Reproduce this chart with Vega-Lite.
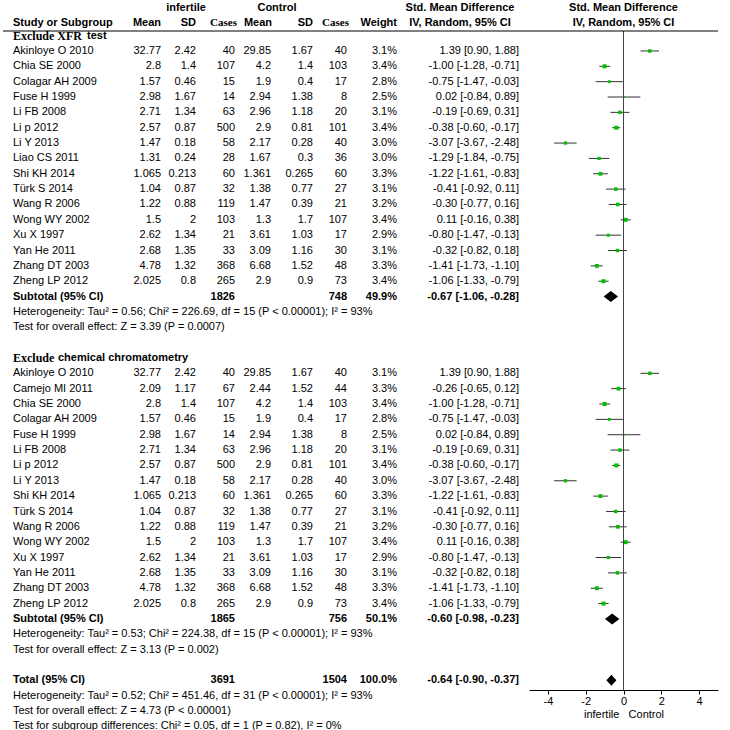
{
"$schema": "https://vega.github.io/schema/vega-lite/v6.json",
"padding": {"left": 2, "top": 0, "right": 0, "bottom": 0},
"autosize": {"type": "pad"},
"bounds": "flush",
"spacing": 0,
"config": {
  "view": {"stroke": null},
  "text": {"font": "Liberation Sans", "fontSize": 11, "color": "black"},
  "axis": {"labelFont": "Liberation Sans", "labelFontSize": 11, "labelColor": "black", "titleFont": "Liberation Sans", "titleFontSize": 11, "titleFontWeight": "normal", "titleColor": "black", "domainColor": "black", "tickColor": "black", "tickSize": 4, "labelPadding": 1, "titlePadding": 2, "grid": false}
},
"data": {"values": [
{"k":"group","pre":"Exclude XFR","post":"test"},
{"k":"study","l":"Akinloye O 2010","m1":32.77,"s1":2.42,"n1":40,"m2":29.85,"s2":1.67,"n2":40,"w":0.031,"e":1.39,"lo":0.90,"hi":1.88},
{"k":"study","l":"Chia SE 2000","m1":2.8,"s1":1.4,"n1":107,"m2":4.2,"s2":1.4,"n2":103,"w":0.034,"e":-1.00,"lo":-1.28,"hi":-0.71},
{"k":"study","l":"Colagar AH 2009","m1":1.57,"s1":0.46,"n1":15,"m2":1.9,"s2":0.4,"n2":17,"w":0.028,"e":-0.75,"lo":-1.47,"hi":-0.03},
{"k":"study","l":"Fuse H 1999","m1":2.98,"s1":1.67,"n1":14,"m2":2.94,"s2":1.38,"n2":8,"w":0.025,"e":0.02,"lo":-0.84,"hi":0.89},
{"k":"study","l":"Li FB 2008","m1":2.71,"s1":1.34,"n1":63,"m2":2.96,"s2":1.18,"n2":20,"w":0.031,"e":-0.19,"lo":-0.69,"hi":0.31},
{"k":"study","l":"Li p 2012","m1":2.57,"s1":0.87,"n1":500,"m2":2.9,"s2":0.81,"n2":101,"w":0.034,"e":-0.38,"lo":-0.60,"hi":-0.17},
{"k":"study","l":"Li Y 2013","m1":1.47,"s1":0.18,"n1":58,"m2":2.17,"s2":0.28,"n2":40,"w":0.030,"e":-3.07,"lo":-3.67,"hi":-2.48},
{"k":"study","l":"Liao CS 2011","m1":1.31,"s1":0.24,"n1":28,"m2":1.67,"s2":0.3,"n2":36,"w":0.030,"e":-1.29,"lo":-1.84,"hi":-0.75},
{"k":"study","l":"Shi KH 2014","m1":1.065,"s1":0.213,"n1":60,"m2":1.361,"s2":0.265,"n2":60,"w":0.033,"e":-1.22,"lo":-1.61,"hi":-0.83},
{"k":"study","l":"Türk S 2014","m1":1.04,"s1":0.87,"n1":32,"m2":1.38,"s2":0.77,"n2":27,"w":0.031,"e":-0.41,"lo":-0.92,"hi":0.11},
{"k":"study","l":"Wang R 2006","m1":1.22,"s1":0.88,"n1":119,"m2":1.47,"s2":0.39,"n2":21,"w":0.032,"e":-0.30,"lo":-0.77,"hi":0.16},
{"k":"study","l":"Wong WY  2002","m1":1.5,"s1":2,"n1":103,"m2":1.3,"s2":1.7,"n2":107,"w":0.034,"e":0.11,"lo":-0.16,"hi":0.38},
{"k":"study","l":"Xu X 1997","m1":2.62,"s1":1.34,"n1":21,"m2":3.61,"s2":1.03,"n2":17,"w":0.029,"e":-0.80,"lo":-1.47,"hi":-0.13},
{"k":"study","l":"Yan He 2011","m1":2.68,"s1":1.35,"n1":33,"m2":3.09,"s2":1.16,"n2":30,"w":0.031,"e":-0.32,"lo":-0.82,"hi":0.18},
{"k":"study","l":"Zhang DT 2003","m1":4.78,"s1":1.32,"n1":368,"m2":6.68,"s2":1.52,"n2":48,"w":0.033,"e":-1.41,"lo":-1.73,"hi":-1.10},
{"k":"study","l":"Zheng LP 2012","m1":2.025,"s1":0.8,"n1":265,"m2":2.9,"s2":0.9,"n2":73,"w":0.034,"e":-1.06,"lo":-1.33,"hi":-0.79},
{"k":"subtotal","l":"Subtotal (95% CI)","n1":1826,"n2":748,"w":0.499,"e":-0.67,"lo":-1.06,"hi":-0.28},
{"k":"note","l":"Heterogeneity: Tau² = 0.56; Chi² = 226.69, df = 15 (P < 0.00001); I² = 93%"},
{"k":"note","l":"Test for overall effect: Z = 3.39 (P = 0.0007)"},
{"k":"blank"},
{"k":"group","pre":"Exclude","post":"chemical chromatometry"},
{"k":"study","l":"Akinloye O 2010","m1":32.77,"s1":2.42,"n1":40,"m2":29.85,"s2":1.67,"n2":40,"w":0.031,"e":1.39,"lo":0.90,"hi":1.88},
{"k":"study","l":"Camejo MI 2011","m1":2.09,"s1":1.17,"n1":67,"m2":2.44,"s2":1.52,"n2":44,"w":0.033,"e":-0.26,"lo":-0.65,"hi":0.12},
{"k":"study","l":"Chia SE 2000","m1":2.8,"s1":1.4,"n1":107,"m2":4.2,"s2":1.4,"n2":103,"w":0.034,"e":-1.00,"lo":-1.28,"hi":-0.71},
{"k":"study","l":"Colagar AH 2009","m1":1.57,"s1":0.46,"n1":15,"m2":1.9,"s2":0.4,"n2":17,"w":0.028,"e":-0.75,"lo":-1.47,"hi":-0.03},
{"k":"study","l":"Fuse H 1999","m1":2.98,"s1":1.67,"n1":14,"m2":2.94,"s2":1.38,"n2":8,"w":0.025,"e":0.02,"lo":-0.84,"hi":0.89},
{"k":"study","l":"Li FB 2008","m1":2.71,"s1":1.34,"n1":63,"m2":2.96,"s2":1.18,"n2":20,"w":0.031,"e":-0.19,"lo":-0.69,"hi":0.31},
{"k":"study","l":"Li p 2012","m1":2.57,"s1":0.87,"n1":500,"m2":2.9,"s2":0.81,"n2":101,"w":0.034,"e":-0.38,"lo":-0.60,"hi":-0.17},
{"k":"study","l":"Li Y 2013","m1":1.47,"s1":0.18,"n1":58,"m2":2.17,"s2":0.28,"n2":40,"w":0.030,"e":-3.07,"lo":-3.67,"hi":-2.48},
{"k":"study","l":"Shi KH 2014","m1":1.065,"s1":0.213,"n1":60,"m2":1.361,"s2":0.265,"n2":60,"w":0.033,"e":-1.22,"lo":-1.61,"hi":-0.83},
{"k":"study","l":"Türk S 2014","m1":1.04,"s1":0.87,"n1":32,"m2":1.38,"s2":0.77,"n2":27,"w":0.031,"e":-0.41,"lo":-0.92,"hi":0.11},
{"k":"study","l":"Wang R 2006","m1":1.22,"s1":0.88,"n1":119,"m2":1.47,"s2":0.39,"n2":21,"w":0.032,"e":-0.30,"lo":-0.77,"hi":0.16},
{"k":"study","l":"Wong WY  2002","m1":1.5,"s1":2,"n1":103,"m2":1.3,"s2":1.7,"n2":107,"w":0.034,"e":0.11,"lo":-0.16,"hi":0.38},
{"k":"study","l":"Xu X 1997","m1":2.62,"s1":1.34,"n1":21,"m2":3.61,"s2":1.03,"n2":17,"w":0.029,"e":-0.80,"lo":-1.47,"hi":-0.13},
{"k":"study","l":"Yan He 2011","m1":2.68,"s1":1.35,"n1":33,"m2":3.09,"s2":1.16,"n2":30,"w":0.031,"e":-0.32,"lo":-0.82,"hi":0.18},
{"k":"study","l":"Zhang DT 2003","m1":4.78,"s1":1.32,"n1":368,"m2":6.68,"s2":1.52,"n2":48,"w":0.033,"e":-1.41,"lo":-1.73,"hi":-1.10},
{"k":"study","l":"Zheng LP 2012","m1":2.025,"s1":0.8,"n1":265,"m2":2.9,"s2":0.9,"n2":73,"w":0.034,"e":-1.06,"lo":-1.33,"hi":-0.79},
{"k":"subtotal","l":"Subtotal (95% CI)","n1":1865,"n2":756,"w":0.501,"e":-0.60,"lo":-0.98,"hi":-0.23},
{"k":"note","l":"Heterogeneity: Tau² = 0.53; Chi² = 224.38, df = 15 (P < 0.00001); I² = 93%"},
{"k":"note","l":"Test for overall effect: Z = 3.13 (P = 0.002)"},
{"k":"blank"},
{"k":"total","l":"Total (95% CI)","n1":3691,"n2":1504,"w":1,"e":-0.64,"lo":-0.90,"hi":-0.37},
{"k":"note","l":"Heterogeneity: Tau² = 0.52; Chi² = 451.46, df = 31 (P < 0.00001); I² = 93%"},
{"k":"note","l":"Test for overall effect: Z = 4.73 (P < 0.00001)"},
{"k":"note","l":"Test for subgroup differences: Chi² = 0.05, df = 1 (P = 0.82), I² = 0%"}
]},
"transform": [
  {"window": [{"op": "row_number", "as": "rn"}]},
  {"calculate": "replace(format(datum.e,'.2f')+' ['+format(datum.lo,'.2f')+', '+format(datum.hi,'.2f')+']', regexp('\u2212','g'), '-')", "as": "ci"}
],
"hconcat": [
  {"width": 158, "height": 730, "layer": [
    {"transform": [{"filter": "datum.k=='study'||datum.k=='note'"}], "mark": {"type": "text", "align": "left", "dx": 10}, "encoding": {"x": {"value": 0}, "y": {"field": "rn", "type": "quantitative", "scale": {"domain": [-1.32, 46.23], "reverse": true, "nice": false, "zero": false}, "axis": null}, "text": {"field": "l", "type": "nominal"}}},
    {"transform": [{"filter": "datum.k=='subtotal'||datum.k=='total'"}], "mark": {"type": "text", "align": "left", "fontWeight": "bold", "dx": 10}, "encoding": {"x": {"value": 0}, "y": {"field": "rn", "type": "quantitative", "scale": {"domain": [-1.32, 46.23], "reverse": true, "nice": false, "zero": false}, "axis": null}, "text": {"field": "l", "type": "nominal"}}},
    {"transform": [{"filter": "datum.k=='group'"}], "mark": {"type": "text", "align": "left", "fontWeight": "bold", "font": "Liberation Serif", "fontSize": 12, "dx": 10}, "encoding": {"x": {"value": 0}, "y": {"field": "rn", "type": "quantitative", "scale": {"domain": [-1.32, 46.23], "reverse": true, "nice": false, "zero": false}, "axis": null}, "text": {"field": "pre", "type": "nominal"}}},
    {"transform": [{"filter": "datum.post=='test'"}], "mark": {"type": "text", "align": "left", "fontWeight": "bold", "dx": 84}, "encoding": {"x": {"value": 0}, "y": {"field": "rn", "type": "quantitative", "scale": {"domain": [-1.32, 46.23], "reverse": true, "nice": false, "zero": false}, "axis": null}, "text": {"field": "post", "type": "nominal"}}},
    {"transform": [{"filter": "datum.post=='chemical chromatometry'"}], "mark": {"type": "text", "align": "left", "fontWeight": "bold", "dx": 55}, "encoding": {"x": {"value": 0}, "y": {"field": "rn", "type": "quantitative", "scale": {"domain": [-1.32, 46.23], "reverse": true, "nice": false, "zero": false}, "axis": null}, "text": {"field": "post", "type": "nominal"}}},
    {"transform": [{"filter": "datum.k=='study'"}], "mark": {"type": "text", "align": "right"}, "encoding": {"x": {"value": "width"}, "y": {"field": "rn", "type": "quantitative", "scale": {"domain": [-1.32, 46.23], "reverse": true, "nice": false, "zero": false}, "axis": null}, "text": {"field": "m1", "type": "nominal"}}},
    {"data": {"values": [{}]}, "mark": {"type": "text", "align": "left", "fontWeight": "bold", "text": "Study or Subgroup", "dx": 10}, "encoding": {"x": {"value": 0}, "y": {"datum": 0.18, "type": "quantitative", "scale": {"domain": [-1.32, 46.23], "reverse": true, "nice": false, "zero": false}, "axis": null}}},
    {"data": {"values": [{}]}, "mark": {"type": "text", "align": "right", "fontWeight": "bold", "text": "Mean"}, "encoding": {"x": {"value": "width"}, "y": {"datum": 0.18, "type": "quantitative", "scale": {"domain": [-1.32, 46.23], "reverse": true, "nice": false, "zero": false}, "axis": null}}},
    {"data": {"values": [{}]}, "mark": {"type": "rule", "color": "black"}, "encoding": {"y": {"datum": 0.70, "type": "quantitative", "scale": {"domain": [-1.32, 46.23], "reverse": true, "nice": false, "zero": false}, "axis": null}}}
  ]},
  {"width": 35, "height": 730, "layer": [
    {"transform": [{"filter": "datum.k=='study'"}], "mark": {"type": "text", "align": "right"}, "encoding": {"x": {"value": "width"}, "y": {"field": "rn", "type": "quantitative", "scale": {"domain": [-1.32, 46.23], "reverse": true, "nice": false, "zero": false}, "axis": null}, "text": {"field": "s1", "type": "nominal"}}},
    {"data": {"values": [{}]}, "mark": {"type": "text", "align": "right", "fontWeight": "bold", "text": "SD"}, "encoding": {"x": {"value": "width"}, "y": {"datum": 0.18, "type": "quantitative", "scale": {"domain": [-1.32, 46.23], "reverse": true, "nice": false, "zero": false}, "axis": null}}},
    {"data": {"values": [{}]}, "mark": {"type": "text", "align": "center", "fontWeight": "bold", "text": "infertile", "dx": -10}, "encoding": {"x": {"value": "width"}, "y": {"datum": -0.8, "type": "quantitative", "scale": {"domain": [-1.32, 46.23], "reverse": true, "nice": false, "zero": false}, "axis": null}}},
    {"data": {"values": [{}]}, "mark": {"type": "rule", "color": "black"}, "encoding": {"y": {"datum": 0.70, "type": "quantitative", "scale": {"domain": [-1.32, 46.23], "reverse": true, "nice": false, "zero": false}, "axis": null}}}
  ]},
  {"width": 39, "height": 730, "layer": [
    {"transform": [{"filter": "datum.k=='study'"}], "mark": {"type": "text", "align": "right"}, "encoding": {"x": {"value": "width"}, "y": {"field": "rn", "type": "quantitative", "scale": {"domain": [-1.32, 46.23], "reverse": true, "nice": false, "zero": false}, "axis": null}, "text": {"field": "n1", "type": "nominal"}}},
    {"transform": [{"filter": "datum.k=='subtotal'||datum.k=='total'"}], "mark": {"type": "text", "align": "right", "fontWeight": "bold"}, "encoding": {"x": {"value": "width"}, "y": {"field": "rn", "type": "quantitative", "scale": {"domain": [-1.32, 46.23], "reverse": true, "nice": false, "zero": false}, "axis": null}, "text": {"field": "n1", "type": "nominal"}}},
    {"data": {"values": [{}]}, "mark": {"type": "text", "align": "right", "fontWeight": "bold", "font": "Liberation Serif", "text": "Cases", "dx": 2}, "encoding": {"x": {"value": "width"}, "y": {"datum": 0.18, "type": "quantitative", "scale": {"domain": [-1.32, 46.23], "reverse": true, "nice": false, "zero": false}, "axis": null}}},
    {"data": {"values": [{}]}, "mark": {"type": "rule", "color": "black"}, "encoding": {"y": {"datum": 0.70, "type": "quantitative", "scale": {"domain": [-1.32, 46.23], "reverse": true, "nice": false, "zero": false}, "axis": null}}}
  ]},
  {"width": 36, "height": 730, "layer": [
    {"transform": [{"filter": "datum.k=='study'"}], "mark": {"type": "text", "align": "right"}, "encoding": {"x": {"value": "width"}, "y": {"field": "rn", "type": "quantitative", "scale": {"domain": [-1.32, 46.23], "reverse": true, "nice": false, "zero": false}, "axis": null}, "text": {"field": "m2", "type": "nominal"}}},
    {"data": {"values": [{}]}, "mark": {"type": "text", "align": "right", "fontWeight": "bold", "text": "Mean", "dx": 1}, "encoding": {"x": {"value": "width"}, "y": {"datum": 0.18, "type": "quantitative", "scale": {"domain": [-1.32, 46.23], "reverse": true, "nice": false, "zero": false}, "axis": null}}},
    {"data": {"values": [{}]}, "mark": {"type": "text", "align": "center", "fontWeight": "bold", "text": "Control", "dx": 6}, "encoding": {"x": {"value": "width"}, "y": {"datum": -0.8, "type": "quantitative", "scale": {"domain": [-1.32, 46.23], "reverse": true, "nice": false, "zero": false}, "axis": null}}},
    {"data": {"values": [{}]}, "mark": {"type": "rule", "color": "black"}, "encoding": {"y": {"datum": 0.70, "type": "quantitative", "scale": {"domain": [-1.32, 46.23], "reverse": true, "nice": false, "zero": false}, "axis": null}}}
  ]},
  {"width": 42, "height": 730, "layer": [
    {"transform": [{"filter": "datum.k=='study'"}], "mark": {"type": "text", "align": "right"}, "encoding": {"x": {"value": "width"}, "y": {"field": "rn", "type": "quantitative", "scale": {"domain": [-1.32, 46.23], "reverse": true, "nice": false, "zero": false}, "axis": null}, "text": {"field": "s2", "type": "nominal"}}},
    {"data": {"values": [{}]}, "mark": {"type": "text", "align": "right", "fontWeight": "bold", "text": "SD"}, "encoding": {"x": {"value": "width"}, "y": {"datum": 0.18, "type": "quantitative", "scale": {"domain": [-1.32, 46.23], "reverse": true, "nice": false, "zero": false}, "axis": null}}},
    {"data": {"values": [{}]}, "mark": {"type": "rule", "color": "black"}, "encoding": {"y": {"datum": 0.70, "type": "quantitative", "scale": {"domain": [-1.32, 46.23], "reverse": true, "nice": false, "zero": false}, "axis": null}}}
  ]},
  {"width": 34, "height": 730, "layer": [
    {"transform": [{"filter": "datum.k=='study'"}], "mark": {"type": "text", "align": "right"}, "encoding": {"x": {"value": "width"}, "y": {"field": "rn", "type": "quantitative", "scale": {"domain": [-1.32, 46.23], "reverse": true, "nice": false, "zero": false}, "axis": null}, "text": {"field": "n2", "type": "nominal"}}},
    {"transform": [{"filter": "datum.k=='subtotal'||datum.k=='total'"}], "mark": {"type": "text", "align": "right", "fontWeight": "bold"}, "encoding": {"x": {"value": "width"}, "y": {"field": "rn", "type": "quantitative", "scale": {"domain": [-1.32, 46.23], "reverse": true, "nice": false, "zero": false}, "axis": null}, "text": {"field": "n2", "type": "nominal"}}},
    {"data": {"values": [{}]}, "mark": {"type": "text", "align": "right", "fontWeight": "bold", "font": "Liberation Serif", "text": "Cases", "dx": 2}, "encoding": {"x": {"value": "width"}, "y": {"datum": 0.18, "type": "quantitative", "scale": {"domain": [-1.32, 46.23], "reverse": true, "nice": false, "zero": false}, "axis": null}}},
    {"data": {"values": [{}]}, "mark": {"type": "rule", "color": "black"}, "encoding": {"y": {"datum": 0.70, "type": "quantitative", "scale": {"domain": [-1.32, 46.23], "reverse": true, "nice": false, "zero": false}, "axis": null}}}
  ]},
  {"width": 50, "height": 730, "layer": [
    {"transform": [{"filter": "datum.k=='study'"}], "mark": {"type": "text", "align": "right"}, "encoding": {"x": {"value": "width"}, "y": {"field": "rn", "type": "quantitative", "scale": {"domain": [-1.32, 46.23], "reverse": true, "nice": false, "zero": false}, "axis": null}, "text": {"field": "w", "type": "quantitative", "format": ".1%"}}},
    {"transform": [{"filter": "datum.k=='subtotal'||datum.k=='total'"}], "mark": {"type": "text", "align": "right", "fontWeight": "bold"}, "encoding": {"x": {"value": "width"}, "y": {"field": "rn", "type": "quantitative", "scale": {"domain": [-1.32, 46.23], "reverse": true, "nice": false, "zero": false}, "axis": null}, "text": {"field": "w", "type": "quantitative", "format": ".1%"}}},
    {"data": {"values": [{}]}, "mark": {"type": "text", "align": "right", "fontWeight": "bold", "text": "Weight"}, "encoding": {"x": {"value": "width"}, "y": {"datum": 0.18, "type": "quantitative", "scale": {"domain": [-1.32, 46.23], "reverse": true, "nice": false, "zero": false}, "axis": null}}},
    {"data": {"values": [{}]}, "mark": {"type": "rule", "color": "black"}, "encoding": {"y": {"datum": 0.70, "type": "quantitative", "scale": {"domain": [-1.32, 46.23], "reverse": true, "nice": false, "zero": false}, "axis": null}}}
  ]},
  {"width": 132, "height": 730, "layer": [
    {"transform": [{"filter": "datum.k=='study'"}], "mark": {"type": "text", "align": "right", "dx": -10}, "encoding": {"x": {"value": "width"}, "y": {"field": "rn", "type": "quantitative", "scale": {"domain": [-1.32, 46.23], "reverse": true, "nice": false, "zero": false}, "axis": null}, "text": {"field": "ci", "type": "nominal"}}},
    {"transform": [{"filter": "datum.k=='subtotal'||datum.k=='total'"}], "mark": {"type": "text", "align": "right", "fontWeight": "bold", "dx": -10}, "encoding": {"x": {"value": "width"}, "y": {"field": "rn", "type": "quantitative", "scale": {"domain": [-1.32, 46.23], "reverse": true, "nice": false, "zero": false}, "axis": null}, "text": {"field": "ci", "type": "nominal"}}},
    {"data": {"values": [{}]}, "mark": {"type": "text", "align": "center", "fontWeight": "bold", "text": "Std. Mean Difference", "dx": -69}, "encoding": {"x": {"value": "width"}, "y": {"datum": -0.8, "type": "quantitative", "scale": {"domain": [-1.32, 46.23], "reverse": true, "nice": false, "zero": false}, "axis": null}}},
    {"data": {"values": [{}]}, "mark": {"type": "text", "align": "center", "fontWeight": "bold", "text": "IV, Random, 95% CI", "dx": -69}, "encoding": {"x": {"value": "width"}, "y": {"datum": 0.18, "type": "quantitative", "scale": {"domain": [-1.32, 46.23], "reverse": true, "nice": false, "zero": false}, "axis": null}}},
    {"data": {"values": [{}]}, "mark": {"type": "rule", "color": "black"}, "encoding": {"y": {"datum": 0.70, "type": "quantitative", "scale": {"domain": [-1.32, 46.23], "reverse": true, "nice": false, "zero": false}, "axis": null}}}
  ]},
  {"width": 189, "height": 690, "layer": [
    {"transform": [{"filter": "datum.k=='study'"}], "mark": {"type": "rule", "color": "#333333", "strokeWidth": 1}, "encoding": {
      "x": {"field": "lo", "type": "quantitative", "scale": {"domain": [-5, 5], "nice": false, "zero": false}, "axis": {"values": [-4, -2, 0, 2, 4], "title": "infertile\u00a0\u00a0\u00a0Control", "labelExpr": "'' + datum.value"}},
      "x2": {"field": "hi"},
      "y": {"field": "rn", "type": "quantitative", "scale": {"domain": [-1.32, 43.63], "reverse": true, "nice": false, "zero": false}, "axis": null}}},
    {"transform": [{"filter": "datum.k=='study'"}], "mark": {"type": "point", "shape": "square", "filled": true, "color": "#00c000", "opacity": 1}, "encoding": {
      "x": {"field": "e", "type": "quantitative", "scale": {"domain": [-5, 5], "nice": false, "zero": false}, "axis": {"values": [-4, -2, 0, 2, 4], "title": "infertile\u00a0\u00a0\u00a0Control", "labelExpr": "'' + datum.value"}},
      "y": {"field": "rn", "type": "quantitative", "scale": {"domain": [-1.32, 43.63], "reverse": true, "nice": false, "zero": false}, "axis": null},
      "size": {"field": "w", "type": "quantitative", "scale": {"domain": [0.025, 0.034], "range": [4, 16]}, "legend": null}}},
    {"transform": [{"filter": "datum.k=='subtotal'"}], "mark": {"type": "point", "shape": "M-1,0L0,-0.76L1,0L0,0.76Z", "size": 208, "filled": true, "color": "black", "opacity": 1}, "encoding": {
      "x": {"field": "e", "type": "quantitative", "scale": {"domain": [-5, 5], "nice": false, "zero": false}, "axis": {"values": [-4, -2, 0, 2, 4], "title": "infertile\u00a0\u00a0\u00a0Control", "labelExpr": "'' + datum.value"}},
      "y": {"field": "rn", "type": "quantitative", "scale": {"domain": [-1.32, 43.63], "reverse": true, "nice": false, "zero": false}, "axis": null}}},
    {"transform": [{"filter": "datum.k=='total'"}], "mark": {"type": "point", "shape": "M-1,0L0,-1.1L1,0L0,1.1Z", "size": 100, "filled": true, "color": "black", "opacity": 1}, "encoding": {
      "x": {"field": "e", "type": "quantitative", "scale": {"domain": [-5, 5], "nice": false, "zero": false}, "axis": {"values": [-4, -2, 0, 2, 4], "title": "infertile\u00a0\u00a0\u00a0Control", "labelExpr": "'' + datum.value"}},
      "y": {"field": "rn", "type": "quantitative", "scale": {"domain": [-1.32, 43.63], "reverse": true, "nice": false, "zero": false}, "axis": null}}},
    {"data": {"values": [{}]}, "mark": {"type": "rule", "color": "#444444"}, "encoding": {
      "x": {"datum": 0, "type": "quantitative", "scale": {"domain": [-5, 5], "nice": false, "zero": false}, "axis": {"values": [-4, -2, 0, 2, 4], "title": "infertile\u00a0\u00a0\u00a0Control", "labelExpr": "'' + datum.value"}},
      "y": {"datum": 0.70, "type": "quantitative", "scale": {"domain": [-1.32, 43.63], "reverse": true, "nice": false, "zero": false}, "axis": null},
      "y2": {"value": "height"}}},
    {"data": {"values": [{}]}, "mark": {"type": "text", "align": "center", "fontWeight": "bold", "text": "Std. Mean Difference"}, "encoding": {
      "x": {"datum": 0, "type": "quantitative", "scale": {"domain": [-5, 5], "nice": false, "zero": false}, "axis": {"values": [-4, -2, 0, 2, 4], "title": "infertile\u00a0\u00a0\u00a0Control", "labelExpr": "'' + datum.value"}},
      "y": {"datum": -0.8, "type": "quantitative", "scale": {"domain": [-1.32, 43.63], "reverse": true, "nice": false, "zero": false}, "axis": null}}},
    {"data": {"values": [{}]}, "mark": {"type": "text", "align": "center", "fontWeight": "bold", "text": "IV, Random, 95% CI"}, "encoding": {
      "x": {"datum": 0, "type": "quantitative", "scale": {"domain": [-5, 5], "nice": false, "zero": false}, "axis": {"values": [-4, -2, 0, 2, 4], "title": "infertile\u00a0\u00a0\u00a0Control", "labelExpr": "'' + datum.value"}},
      "y": {"datum": 0.18, "type": "quantitative", "scale": {"domain": [-1.32, 43.63], "reverse": true, "nice": false, "zero": false}, "axis": null}}},
    {"data": {"values": [{}]}, "mark": {"type": "rule", "color": "black"}, "encoding": {"y": {"datum": 0.70, "type": "quantitative", "scale": {"domain": [-1.32, 43.63], "reverse": true, "nice": false, "zero": false}, "axis": null}}}
  ]}
]
}
